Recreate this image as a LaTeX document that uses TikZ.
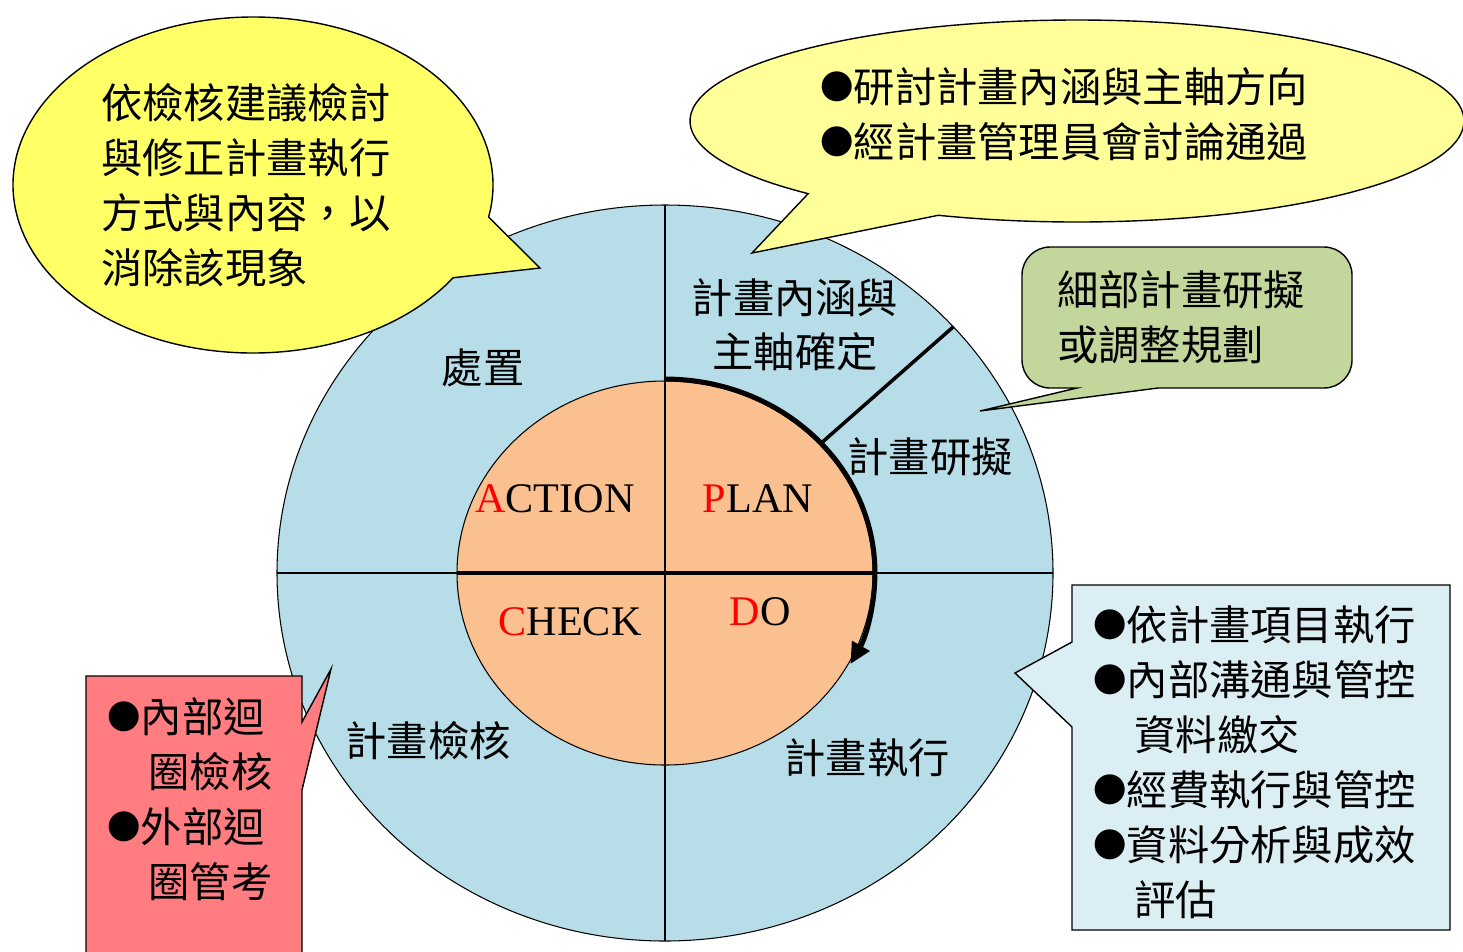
\documentclass[tikz,border=0pt]{standalone}
\usepackage{fontspec}
\setmainfont{Liberation Serif}
\newfontfamily\cjk{Noto Sans CJK TC}
\definecolor{ringblue}{RGB}{183, 221, 232}
\definecolor{corepeach}{RGB}{250, 192, 144}
\definecolor{noteyellow}{RGB}{255, 255, 102}
\definecolor{paleyellow}{RGB}{255, 255, 153}
\definecolor{planlime}{RGB}{195, 214, 155}
\definecolor{checkred}{RGB}{255, 124, 128}
\definecolor{doblue}{RGB}{219, 238, 244}
\definecolor{pdcared}{RGB}{255, 0, 0}
\usetikzlibrary{arrows.meta}

\tikzset{
  thinline/.style={draw=black, line width=0.6pt},
  calloutbox/.style={draw=black, line width=0.8pt, line join=miter},
  zhlabel/.style={font={\cjk\fontsize{23.5}{31.3}\selectfont}, inner sep=0pt},
  zhblock/.style={zhlabel, align=left, anchor=west},
  pdcalabel/.style={font={\fontsize{24}{28}\selectfont}, inner sep=0pt}
}
\newcommand{\pdcafirst}[1]{\textcolor{pdcared}{#1}}
\newcommand{\zhbullet}{\raisebox{1.7pt}{\fontsize{19}{19}\selectfont ●}}
\newcommand{\zhindent}{\phantom{●}}

\begin{document}
\begin{tikzpicture}[x=0.02cm, y=-0.02cm]
  \useasboundingbox (0,0) rectangle (1463,951);

  % Outer ring
  \draw[thinline, fill=ringblue] (665,573) ellipse [x radius=388, y radius=368];
  \coordinate (ringwest) at (277,573);
  \coordinate (ringeast) at (1053,573);
  \coordinate (ringnorth) at (665,205);
  \coordinate (ringsouth) at (665,941);
  \draw[thinline] (ringwest) -- (ringeast);

  % Inner core
  \draw[thinline, fill=corepeach] (665,573) ellipse [x radius=208, y radius=192];
  \coordinate (corewest) at (457,573);
  \coordinate (coreeast) at (873,573);
  \draw[line width=2.2pt] (corewest) -- (coreeast);
  \draw[line width=1pt] (ringnorth) -- (ringsouth);

  % Split of the plan quarter
  \coordinate (splitin) at ([shift={(665,573)}] -42:208 and 192);
  \coordinate (splitout) at ([shift={(665,573)}] -42:388 and 368);
  \draw[line width=2pt] (splitin) -- (splitout);

  % Cycle arrow
  \coordinate (cyclestart) at ([shift={(665,573)}] -90:210 and 194);
  \draw[line width=2.8pt, -{Triangle[length=12pt, width=11pt]}] (cyclestart)
    arc[start angle=-90, end angle=28, x radius=210, y radius=194];

  % PDCA words
  \node[pdcalabel] (action) at (555,499) {\pdcafirst{A}CTION};
  \node[pdcalabel] (plan) at (758,499) {\pdcafirst{P}LAN};
  \node[pdcalabel] (check) at (570,622) {\pdcafirst{C}HECK};
  \node[pdcalabel] (do) at (760,612) {\pdcafirst{D}O};

  % Ring labels
  \node[zhlabel] (actlabel) at (483,368) {處置};
  \node[zhlabel] (scopelabel) at (795,298) {計畫內涵與};
  \node[zhlabel] (scopelabelb) at (795,352) {主軸確定};
  \node[zhlabel] (draftlabel) at (930,457) {計畫研擬};
  \node[zhlabel] (dolabel) at (867,758) {計畫執行};
  \node[zhlabel] (checklabel) at (428,741) {計畫檢核};

  % Left bubble
  \draw[calloutbox, fill=noteyellow] (253,185) ++(33.5:240 and 168)
    arc[start angle=33.5, end angle=371, x radius=240, y radius=168] -- (540,268) -- cycle;
  \node[zhblock] (actnote) at (101,185.5) {依檢核建議檢討\\與修正計畫執行\\方式與內容，以\\消除該現象};

  % Top bubble
  \draw[calloutbox, fill=paleyellow] (1077,121) ++(134:387 and 101)
    arc[start angle=134, end angle=471, x radius=387, y radius=101] -- (752,253) -- cycle;
  \node[zhblock] (scopenote) at (820,114) {\zhbullet 研討計畫內涵與主軸方向\\\zhbullet 經計畫管理員會討論通過};

  % Green note
  \draw[calloutbox, fill=planlime] (1077,388) -- (980,411) -- (1158,388) -- (1324,388)
    arc[start angle=90, end angle=0, radius=28] -- (1352,275)
    arc[start angle=0, end angle=-90, radius=28] -- (1050,247)
    arc[start angle=-90, end angle=-180, radius=28] -- (1022,360)
    arc[start angle=180, end angle=90, radius=28] -- cycle;
  \node[zhblock] (draftnote) at (1057,317.5) {細部計畫研擬\\或調整規劃};

  % Red note
  \draw[calloutbox, fill=checkred] (302,722) -- (331,669) -- (302,790) -- (302,956)
    -- (86,956) -- (86,676) -- (302,676) -- cycle;
  \node[zhblock] (checknote) at (107,799.5) {\zhbullet 內部迴\\\zhindent 圈檢核\\\zhbullet 外部迴\\\zhindent 圈管考};

  % Blue note
  \draw[calloutbox, fill=doblue] (1072,642) -- (1015,673) -- (1072,727) -- (1072,930)
    -- (1450,930) -- (1450,585) -- (1072,585) -- cycle;
  \node[zhblock] (donote) at (1093,762.5) {\zhbullet 依計畫項目執行\\\zhbullet 內部溝通與管控\\\zhindent 資料繳交\\\zhbullet 經費執行與管控\\\zhbullet 資料分析與成效\\\zhindent 評估};
\end{tikzpicture}
\end{document}
